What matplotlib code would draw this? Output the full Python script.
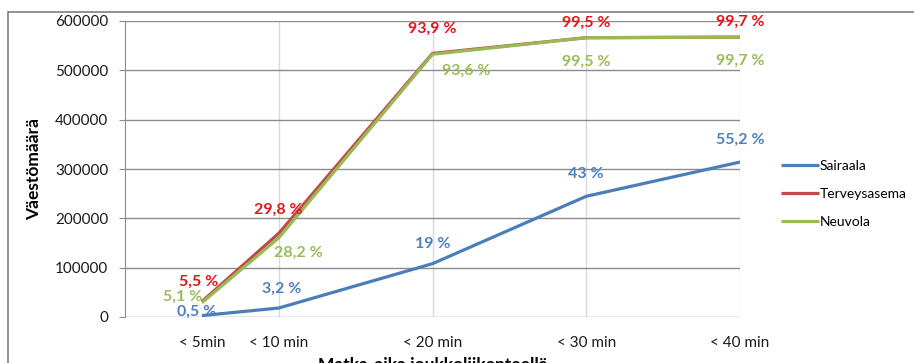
import matplotlib.pyplot as plt
from matplotlib.patches import Rectangle

plt.rcParams['font.family'] = ['Lato', 'DejaVu Sans']

# Travel time by public transport (minutes) and tick labels
minutes = [5, 10, 20, 30, 40]
tick_labels = ["< 5min", "< 10 min", "< 20 min", "< 30 min", "< 40 min"]

# Total population of the area
total_pop = 569000

# Share of population (%) reaching each service within the time
sairaala_pct = [0.5, 3.2, 19, 43, 55.2]
terveysasema_pct = [5.5, 29.8, 93.9, 99.5, 99.7]
neuvola_pct = [5.1, 28.2, 93.6, 99.5, 99.7]

sairaala_lbl = ["0,5 %", "3,2 %", "19 %", "43 %", "55,2 %"]
terveysasema_lbl = ["5,5 %", "29,8 %", "93,9 %", "99,5 %", "99,7 %"]
neuvola_lbl = ["5,1 %", "28,2 %", "93,6 %", "99,5 %", "99,7 %"]


def to_pop(pct):
    return [p / 100 * total_pop for p in pct]


fig = plt.figure(figsize=(9.14, 3.63), dpi=100)
fig.patches.append(Rectangle((8 / 914, -0.1), 1.2, 1 - 12 / 363 + 0.1,
                             transform=fig.transFigure, fill=False,
                             edgecolor="#7f7f7f", linewidth=1.2))

ax = fig.add_axes([125 / 914, 1 - 317 / 363, 615 / 914, 296 / 363])

# label offsets (points) relative to each data point
series = [
    ("Sairaala", sairaala_pct, sairaala_lbl, "#4a7ebb", "#4f81bd",
     [(-4, 3), (2, 14), (0, 14), (0, 16), (0, 16)]),
    ("Terveysasema", terveysasema_pct, terveysasema_lbl, "#be4b48", "#e3141b",
     [(-2, 14), (0, 17), (0, 18), (0, 11), (0, 11)]),
    ("Neuvola", neuvola_pct, neuvola_lbl, "#98b954", "#9bbb59",
     [(-14, 4), (14, -11), (24, -12), (0, -17), (0, -17)]),
]

for name, pct, labels, line_col, text_col, offsets in series:
    vals = to_pop(pct)
    ax.plot(minutes, vals, color=line_col, linewidth=2.3, label=name,
            solid_capstyle="butt", solid_joinstyle="round")
    for x, y, t, off in zip(minutes, vals, labels, offsets):
        ax.annotate(t, (x, y), xytext=off, textcoords="offset points",
                    ha="center", va="center", color=text_col,
                    fontsize=11.5, fontweight="bold", annotation_clip=False)

ax.set_xlim(0, 40)
ax.set_ylim(0, 600000)
ax.set_yticks(range(0, 600001, 100000))
ax.set_xticks(minutes)
ax.set_xticklabels(tick_labels)

# light vertical gridlines every 10 minutes, darker horizontal ones
for gx in [10, 20, 30, 40]:
    ax.axvline(gx, color="#d9d9d9", linewidth=1, zorder=0)
ax.yaxis.grid(True, color="#8c8c8c", linewidth=1)
ax.set_axisbelow(True)

for side in ["top", "right", "bottom"]:
    ax.spines[side].set_visible(False)
ax.spines["left"].set_color("#8c8c8c")
ax.tick_params(axis="y", length=4, color="#8c8c8c", labelsize=11, pad=8,
               labelcolor="#1a1a1a")
ax.tick_params(axis="x", length=0, labelsize=11, pad=14, labelcolor="#1a1a1a")

ax.set_ylabel("Väestömäärä", fontsize=12.5, fontweight="bold", labelpad=9)
ax.set_xlabel("Matka-aika joukkoliikenteellä", fontsize=12.5,
              fontweight="bold", labelpad=5)

ax.legend(loc="center left", bbox_to_anchor=(1.058, 0.416), frameon=False,
          fontsize=10, handlelength=2.7, handletextpad=0.05,
          labelspacing=1.15, borderaxespad=0.0)

fig.savefig("out.png", dpi=100)
